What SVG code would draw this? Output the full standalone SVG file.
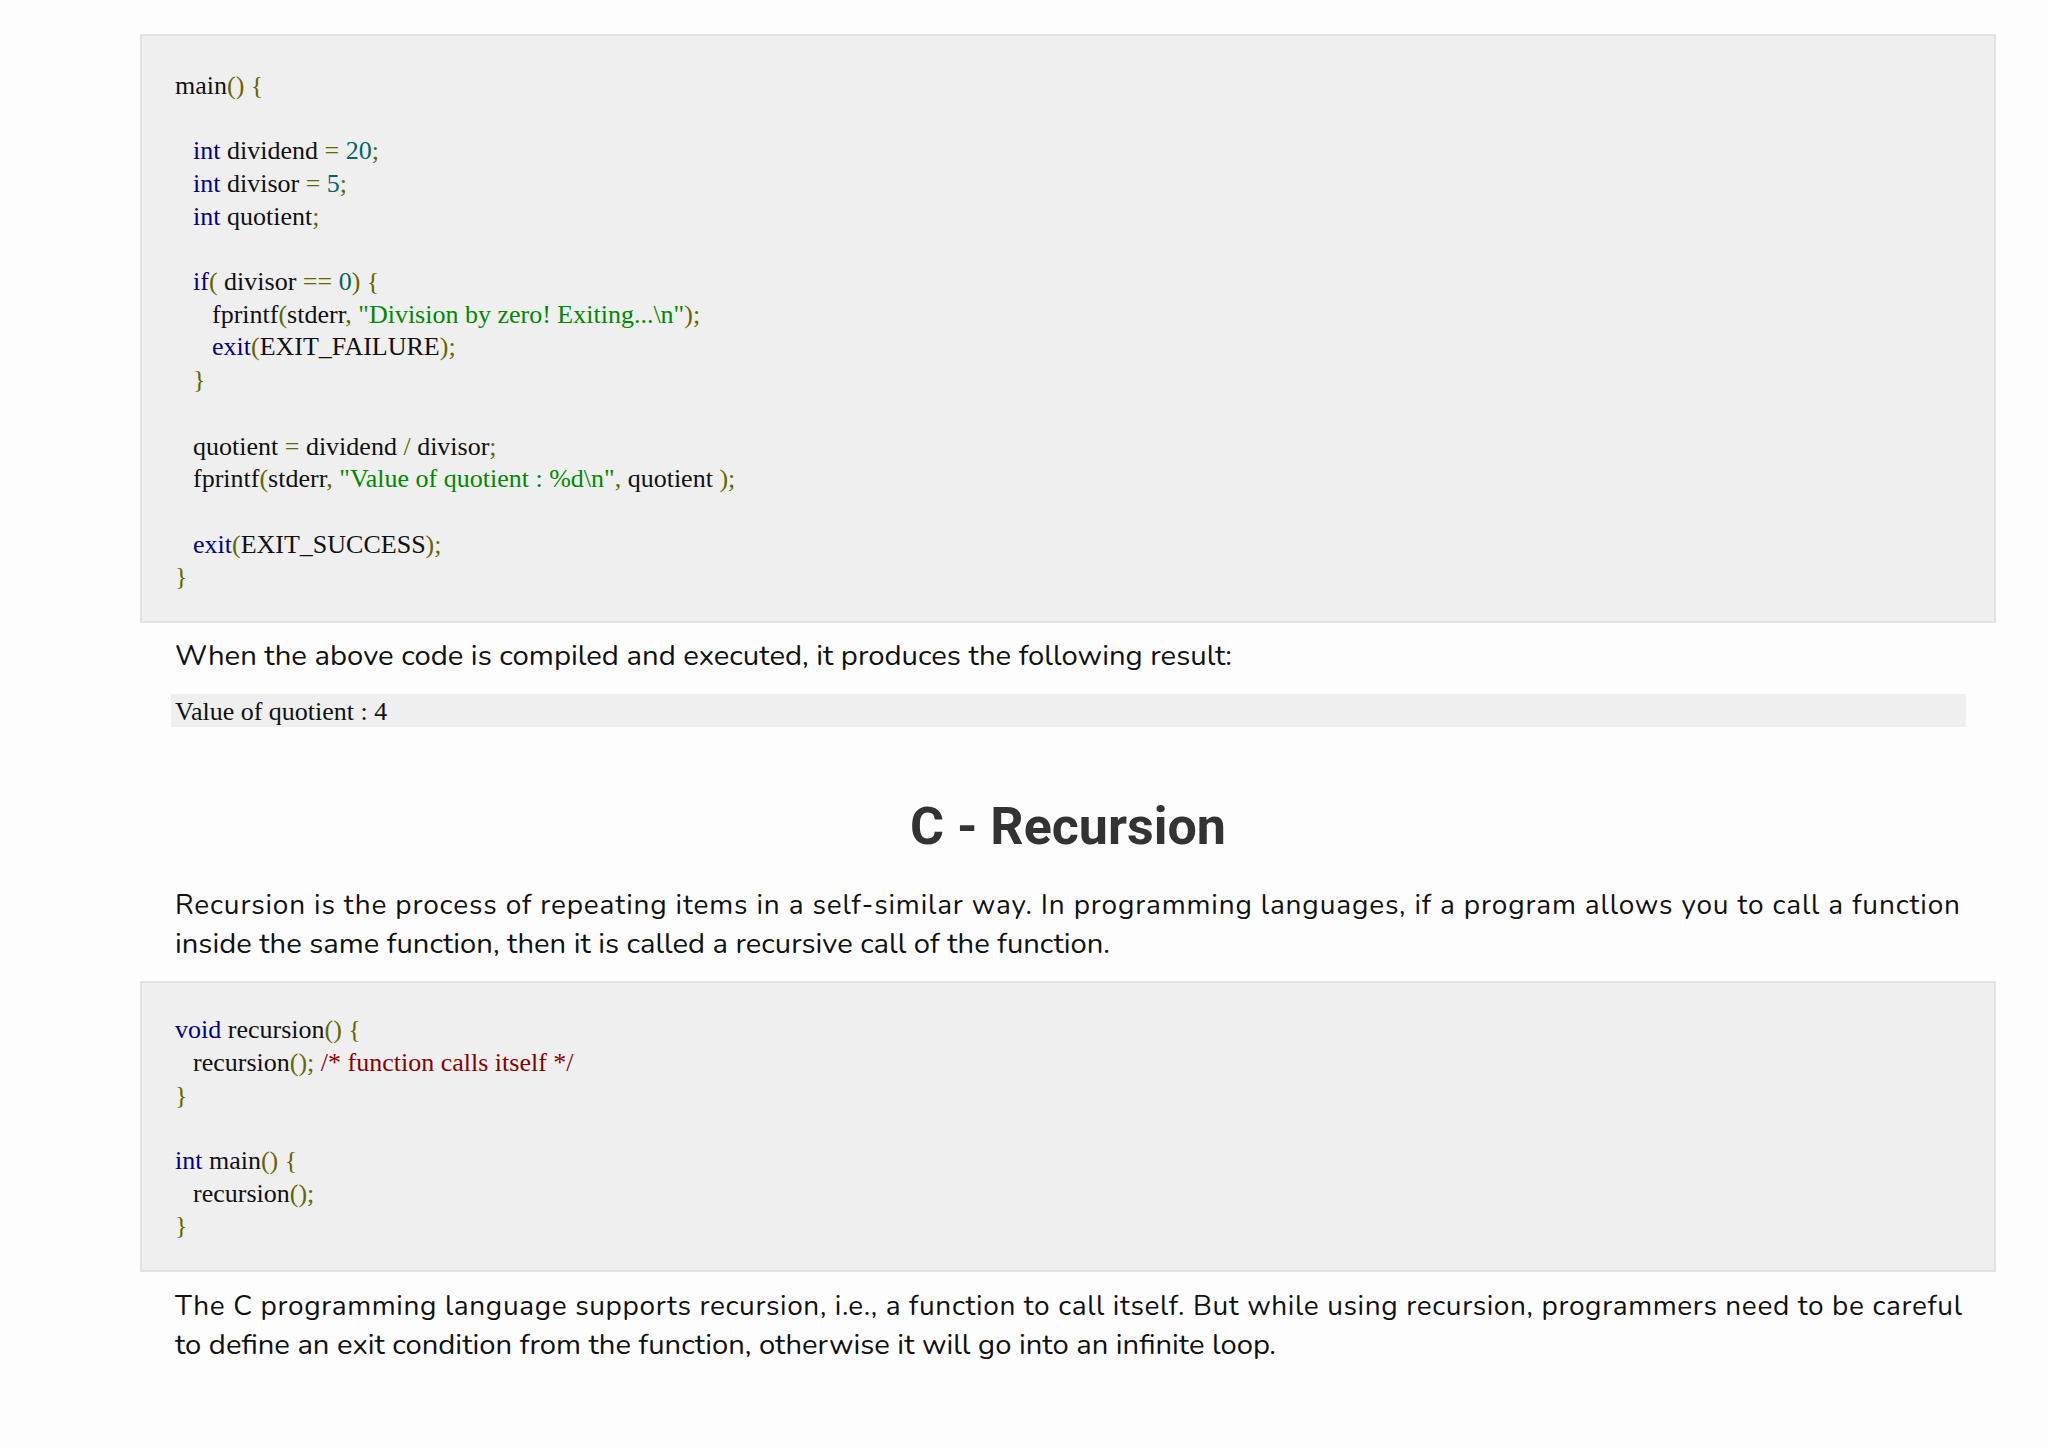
<svg xmlns="http://www.w3.org/2000/svg" width="2048" height="1448" viewBox="0 0 2048 1448">
<style>
.box{fill:#efeff0;stroke:#dcdcdc;stroke-width:1.5}
.c{font-family:"Liberation Serif","DejaVu Serif",serif;font-size:26px;fill:#111}
.k{fill:#000088}.n{fill:#006666}.p{fill:#666600}.s{fill:#008800}.m{fill:#880000}
.t{font-family:"Nunito","Lato","Noto Sans",sans-serif;font-size:28px;fill:#111}
.h{font-family:Roboto,"Liberation Sans",sans-serif;font-size:52px;font-weight:bold;fill:#333}
</style>
<rect width="2048" height="1448" fill="#fdfdfd"/>
<g id="code1">
<rect class="box" x="141" y="35" width="1854" height="587"/>
<text class="c" x="175" y="94">main<tspan class="p">() {</tspan></text>
<text class="c" x="193" y="159"><tspan class="k">int</tspan> dividend <tspan class="p">=</tspan> <tspan class="n">20</tspan><tspan class="p">;</tspan></text>
<text class="c" x="193" y="192"><tspan class="k">int</tspan> divisor <tspan class="p">=</tspan> <tspan class="n">5</tspan><tspan class="p">;</tspan></text>
<text class="c" x="193" y="225"><tspan class="k">int</tspan> quotient<tspan class="p">;</tspan></text>
<text class="c" x="193" y="290"><tspan class="k">if</tspan><tspan class="p">(</tspan> divisor <tspan class="p">==</tspan> <tspan class="n">0</tspan><tspan class="p">) {</tspan></text>
<text class="c" x="212" y="323">fprintf<tspan class="p">(</tspan>stderr<tspan class="p">,</tspan> <tspan class="s">"Division by zero! Exiting...\n"</tspan><tspan class="p">);</tspan></text>
<text class="c" x="212" y="355"><tspan class="k">exit</tspan><tspan class="p">(</tspan>EXIT_FAILURE<tspan class="p">);</tspan></text>
<text class="c p" x="193" y="388">}</text>
<text class="c" x="193" y="455">quotient <tspan class="p">=</tspan> dividend <tspan class="p">/</tspan> divisor<tspan class="p">;</tspan></text>
<text class="c" x="193" y="487">fprintf<tspan class="p">(</tspan>stderr<tspan class="p">,</tspan> <tspan class="s">"Value of quotient : %d\n"</tspan><tspan class="p">,</tspan> quotient <tspan class="p">);</tspan></text>
<text class="c" x="193" y="553"><tspan class="k">exit</tspan><tspan class="p">(</tspan>EXIT_SUCCESS<tspan class="p">);</tspan></text>
<text class="c p" x="175" y="585">}</text>
</g>
<text class="t" x="175" y="665" textLength="1057" lengthAdjust="spacingAndGlyphs">When the above code is compiled and executed, it produces the following result:</text>
<g id="output">
<rect x="171" y="694" width="1795" height="33" fill="#efeff0"/>
<text class="c" x="175" y="720">Value of quotient : 4</text>
</g>
<text class="h" x="1068" y="844" text-anchor="middle">C - Recursion</text>
<text class="t" x="175" y="914" textLength="1785" lengthAdjust="spacing">Recursion is the process of repeating items in a self-similar way. In programming languages, if a program allows you to call a function</text>
<text class="t" x="175" y="953" textLength="935" lengthAdjust="spacingAndGlyphs">inside the same function, then it is called a recursive call of the function.</text>
<g id="code2">
<rect class="box" x="141" y="982" width="1854" height="289"/>
<text class="c" x="175" y="1038"><tspan class="k">void</tspan> recursion<tspan class="p">() {</tspan></text>
<text class="c" x="193" y="1071">recursion<tspan class="p">();</tspan> <tspan class="m">/* function calls itself */</tspan></text>
<text class="c p" x="175" y="1104">}</text>
<text class="c" x="175" y="1169"><tspan class="k">int</tspan> main<tspan class="p">() {</tspan></text>
<text class="c" x="193" y="1202">recursion<tspan class="p">();</tspan></text>
<text class="c p" x="175" y="1234">}</text>
</g>
<text class="t" x="175" y="1315" textLength="1787" lengthAdjust="spacing">The C programming language supports recursion, i.e., a function to call itself. But while using recursion, programmers need to be careful</text>
<text class="t" x="175" y="1354" textLength="1101" lengthAdjust="spacingAndGlyphs">to define an exit condition from the function, otherwise it will go into an infinite loop.</text>
</svg>
